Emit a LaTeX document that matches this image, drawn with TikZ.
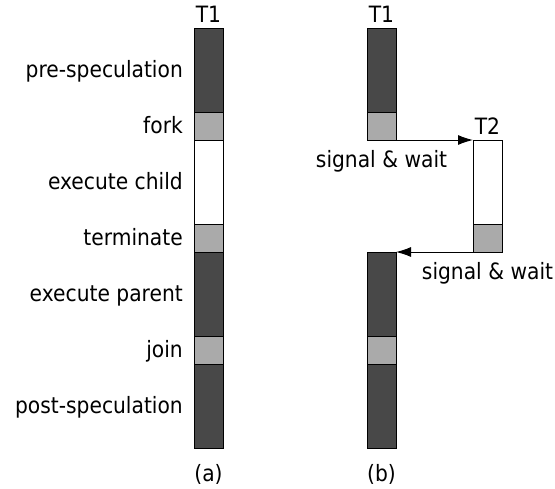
\documentclass[tikz,border=0pt]{standalone}
\usepackage{fontspec}
\setmainfont{DejaVu Sans}[FakeStretch=0.9]
\usetikzlibrary{positioning,arrows.meta}
\definecolor{segDark}{RGB}{72,72,72}
\definecolor{segGray}{RGB}{170,170,170}

\tikzset{
  seg/.style={draw=black, line width=1pt, minimum width=29pt, inner sep=0pt, outer sep=0pt},
  tallseg/.style={seg, minimum height=84pt},
  lowseg/.style={seg, minimum height=28pt},
  lbl/.style={font=\fontsize{22.5}{26}\selectfont, inner sep=0pt},
  side/.style={lbl, anchor=base east},
  flow/.style={-{Latex[length=15pt,width=10pt]}, line width=1pt}
}

\begin{document}
\begin{tikzpicture}[x=1pt,y=-1pt]
  \useasboundingbox (0,0) rectangle (555,488);

  % (a): a single thread
  \node[tallseg, fill=segDark, anchor=north] (preA) at (208.5,28) {};
  \node[lowseg, fill=segGray, below=0pt of preA] (forkA) {};
  \node[tallseg, fill=white, below=0pt of forkA] (childA) {};
  \node[lowseg, fill=segGray, below=0pt of childA] (termA) {};
  \node[tallseg, fill=segDark, below=0pt of termA] (parentA) {};
  \node[lowseg, fill=segGray, below=0pt of parentA] (joinA) {};
  \node[tallseg, fill=segDark, below=0pt of joinA] (postA) {};

  \node[lbl, above=5pt of preA] (nameA) {T1};
  \node[side] (labPre) at ([xshift=-11pt,yshift=-7pt]preA.west) {pre-speculation};
  \node[side] (labFork) at ([xshift=-11pt,yshift=-7pt]forkA.west) {fork};
  \node[side] (labChild) at ([xshift=-11pt,yshift=-7pt]childA.west) {execute child};
  \node[side] (labTerm) at ([xshift=-11pt,yshift=-7pt]termA.west) {terminate};
  \node[side] (labParent) at ([xshift=-11pt,yshift=-7pt]parentA.west) {execute parent};
  \node[side] (labJoin) at ([xshift=-11pt,yshift=-7pt]joinA.west) {join};
  \node[side] (labPost) at ([xshift=-11pt,yshift=-7pt]postA.west) {post-speculation};
  \node[lbl, below=16pt of postA] (capA) {(a)};

  % (b): parent T1 and child T2
  \node[tallseg, fill=segDark, anchor=north] (preB) at (381.5,28) {};
  \node[lowseg, fill=segGray, below=0pt of preB] (forkB) {};
  \node[tallseg, fill=white, anchor=north] (childB) at (487.5,140) {};
  \node[lowseg, fill=segGray, below=0pt of childB] (termB) {};
  \node[tallseg, fill=segDark, anchor=north] (parentB) at (381.5,252) {};
  \node[lowseg, fill=segGray, below=0pt of parentB] (joinB) {};
  \node[tallseg, fill=segDark, below=0pt of joinB] (postB) {};

  \node[lbl, above=5pt of preB] (nameB) {T1};
  \node[lbl, above=5pt of childB] (nameC) {T2};

  % hand-offs
  \draw[flow] (forkB.south east) -- (childB.north west);
  \draw[flow] (termB.south west) -- (parentB.north east);
  \node[lbl, below=10pt of forkB] (sigFork) {signal \& wait};
  \node[lbl, below=10pt of termB] (sigTerm) {signal \& wait};

  \node[lbl, below=16pt of postB] (capB) {(b)};
\end{tikzpicture}
\end{document}
